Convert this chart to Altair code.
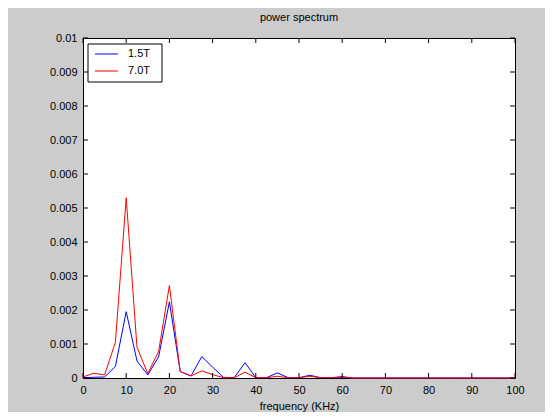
import altair as alt
import pandas as pd

freq = [0, 2.5, 5, 7.5, 10, 12.5, 15, 17.5, 20, 22.5, 25, 27.5, 30, 32.5, 35, 37.5,
        40, 42.5, 45, 47.5, 50, 52.5, 55, 57.5, 60, 62.5, 65, 67.5, 70, 72.5, 75,
        77.5, 80, 82.5, 85, 87.5, 90, 92.5, 95, 97.5, 100]

power_15T = [0.00001, 0.00002, 0.00003, 0.00034, 0.00195, 0.00050, 0.00009, 0.00062,
             0.00224, 0.00019, 0.00006, 0.00063, 0.00032, 0.00002, 0.00001, 0.00045,
             0.00001, 0.00001, 0.00015, 0.00001, 0.00001, 0.00008, 0.00001, 0.00001,
             0.00004, 0, 0, 0, 0, 0, 0, 0, 0, 0, 0, 0, 0, 0, 0, 0, 0]

power_70T = [0.00003, 0.00014, 0.00009, 0.00105, 0.00530, 0.00090, 0.00013, 0.00078,
             0.00272, 0.00019, 0.00006, 0.00021, 0.00010, 0.00001, 0.00001, 0.00017,
             0.00001, 0.00001, 0.00005, 0.00001, 0.00001, 0.00005, 0.00001, 0.00001,
             0.00002, 0, 0, 0, 0, 0, 0, 0, 0, 0, 0, 0, 0, 0, 0, 0, 0]

series_names = ["1.5T", "7.0T"]
series_colors = ["#0000ff", "#ff0000"]

x_ticks = [0, 10, 20, 30, 40, 50, 60, 70, 80, 90, 100]
y_ticks = [0, 0.001, 0.002, 0.003, 0.004, 0.005, 0.006, 0.007, 0.008, 0.009, 0.01]

FONT = "Liberation Sans"
W, H = 432, 340
TICK = 5

df = pd.concat([
    pd.DataFrame({"freq": freq, "power": power_15T, "series": series_names[0]}),
    pd.DataFrame({"freq": freq, "power": power_70T, "series": series_names[1]}),
])

xscale = alt.Scale(domain=[0, 100], nice=False, zero=False)
yscale = alt.Scale(domain=[0, 0.01], nice=False)
x_axis = alt.Axis(values=x_ticks, title="frequency (KHz)", ticks=False,
                  labelPadding=6, titlePadding=5, grid=False, labelFlush=False)
y_axis = alt.Axis(values=y_ticks, format="~g", title=None, ticks=False,
                  labelPadding=6, grid=False, labelFlush=False)

lines = alt.Chart(df).mark_line(strokeWidth=1).encode(
    x=alt.X("freq:Q", scale=xscale, axis=x_axis, title="frequency (KHz)"),
    y=alt.Y("power:Q", scale=yscale, axis=y_axis, title=None),
    color=alt.Color("series:N",
                    scale=alt.Scale(domain=series_names, range=series_colors),
                    legend=None),
)

xt = alt.Chart(pd.DataFrame({"t": x_ticks}))
yt = alt.Chart(pd.DataFrame({"t": y_ticks}))

bottom_ticks = xt.mark_rule(strokeWidth=1).encode(
    x=alt.X("t:Q", scale=xscale, axis=x_axis, title="frequency (KHz)"),
    y=alt.value(H), y2=alt.value(H - TICK))
top_ticks = xt.mark_rule(strokeWidth=1).encode(
    x=alt.X("t:Q", scale=xscale, axis=x_axis, title="frequency (KHz)"),
    y=alt.value(0), y2=alt.value(TICK))
left_ticks = yt.mark_rule(strokeWidth=1).encode(
    y=alt.Y("t:Q", scale=yscale, axis=y_axis, title=None),
    x=alt.value(0), x2=alt.value(TICK))
right_ticks = yt.mark_rule(strokeWidth=1).encode(
    y=alt.Y("t:Q", scale=yscale, axis=y_axis, title=None),
    x=alt.value(W), x2=alt.value(W - TICK))

# legend box (MATLAB style, inside the axes at top-left)
LX0, LX1, LY0, LY1 = 5, 79, 6, 44
ROW0, ROWSTEP = 16, 17
legend_src = alt.Chart(pd.DataFrame({"series": series_names, "color": series_colors}))
legend_box = alt.Chart(pd.DataFrame({"k": [0]})).mark_rect(
    fill="white", stroke="black", strokeWidth=1
).encode(x=alt.value(LX0), x2=alt.value(LX1), y=alt.value(LY0), y2=alt.value(LY1))

legend_layers = [legend_box]
for i, name in enumerate(series_names):
    src = alt.Chart(pd.DataFrame({"series": [name]}))
    legend_layers.append(
        src.mark_rule(strokeWidth=1, color=series_colors[i]).encode(
            x=alt.value(12), x2=alt.value(35), y=alt.value(ROW0 + ROWSTEP * i))
    )
    legend_layers.append(
        src.mark_text(align="left", baseline="middle", font=FONT, fontSize=11,
                      color="black").encode(
            text="series:N", x=alt.value(45), y=alt.value(ROW0 + ROWSTEP * i))
    )

chart = alt.layer(lines, bottom_ticks, top_ticks, left_ticks, right_ticks,
                  *legend_layers).properties(
    width=W, height=H,
    title=alt.TitleParams("power spectrum", fontSize=11, fontWeight="normal",
                          font=FONT, anchor="middle", offset=9, color="black"),
    autosize=alt.AutoSizeParams(type="none"),
    padding={"left": 75, "top": 30, "right": 30, "bottom": 34},
    background="#cccccc",
).configure_view(
    stroke="black", strokeWidth=1, fill="white"
).configure_rule(
    color="black"
).configure_axis(
    domainColor="black", labelColor="black", titleColor="black",
    labelFont=FONT, titleFont=FONT, labelFontSize=11, titleFontSize=11,
    titleFontWeight="normal",
)

chart.save("out.html", embed_options={"renderer": "svg", "actions": False})
